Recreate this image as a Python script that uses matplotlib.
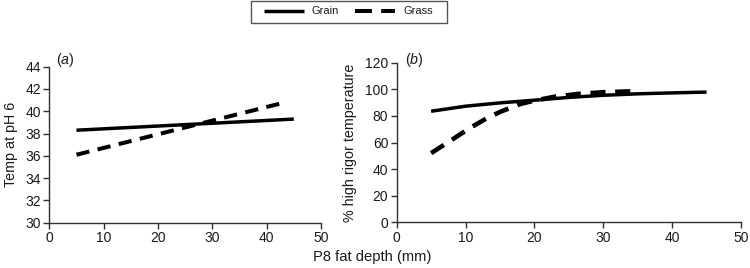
import matplotlib
matplotlib.use("Agg")
import matplotlib.pyplot as plt
from matplotlib.patches import Rectangle
from matplotlib.lines import Line2D

plt.rcParams['font.family'] = ['Liberation Sans', 'DejaVu Sans']
plt.rcParams['mathtext.fontset'] = 'custom'
plt.rcParams['mathtext.it'] = 'Liberation Sans:italic'
plt.rcParams['mathtext.rm'] = 'Liberation Sans'

# Panel (a): Temp at pH 6
a_grain_x = [5, 45]
a_grain_y = [38.3, 39.3]
a_grass_x = [5, 43.8]
a_grass_y = [36.1, 40.85]

# Panel (b): % high rigor temperature
b_grain_x = [5, 10, 15, 20, 25, 30, 35, 40, 45]
b_grain_y = [83.5, 87.3, 89.8, 91.8, 93.9, 95.5, 96.6, 97.3, 97.9]
b_grass_x = [5, 8, 10.5, 13, 15, 18, 20, 23, 26.5, 30, 34.8]
b_grass_y = [52, 62, 70.5, 78, 83, 89, 91.5, 94.5, 96.6, 97.8, 98.6]

xticks = [0, 10, 20, 30, 40, 50]
a_yticks = [30, 32, 34, 36, 38, 40, 42, 44]
b_yticks = [0, 20, 40, 60, 80, 100, 120]

W, H = 750, 268
fig = plt.figure(figsize=(W / 100, H / 100), dpi=100)
axa = fig.add_axes([49.3 / W, (H - 222.7) / H, (321 - 49.3) / W, (222.7 - 66.7) / H])
axb = fig.add_axes([396.7 / W, (H - 222.3) / H, (741 - 396.7) / W, (222.3 - 62.7) / H])

spine_col = '#303030'
txt_col = '#1a1a1a'
tfs = 10
lfs = 10.3
lw_solid = 2.5
lw_dash = 2.9
dash = (0, (3.3, 2.1))

for ax in (axa, axb):
    for s in ('top', 'right'):
        ax.spines[s].set_visible(False)
    for s in ('left', 'bottom'):
        ax.spines[s].set_color(spine_col)
        ax.spines[s].set_linewidth(1.0)
    ax.tick_params(direction='out', length=4, width=1.0, color=spine_col,
                   labelsize=tfs, labelcolor=txt_col, pad=2)
    ax.set_xlim(0, 50)
    ax.set_xticks(xticks)

axa.plot(a_grain_x, a_grain_y, color='black', lw=lw_solid, solid_capstyle='butt')
axa.plot(a_grass_x, a_grass_y, color='black', lw=lw_dash, linestyle=dash)
axa.set_ylim(30, 44)
axa.set_yticks(a_yticks)
axa.set_ylabel('Temp at pH 6', fontsize=lfs, color=txt_col, labelpad=5)
axa.text(1.2, 44.2, r'($\it{a}$)', fontsize=lfs, va='baseline', ha='left',
         color=txt_col, clip_on=False)

axb.plot(b_grain_x, b_grain_y, color='black', lw=lw_solid, solid_capstyle='butt')
axb.plot(b_grass_x, b_grass_y, color='black', lw=lw_dash + 0.4, linestyle=dash)
axb.set_ylim(0, 120)
axb.set_yticks(b_yticks)
axb.set_ylabel('% high rigor temperature', fontsize=lfs, color=txt_col, labelpad=6)
axb.text(1.2, 119, r'($\it{b}$)', fontsize=lfs, va='baseline', ha='left',
         color=txt_col, clip_on=False)

fig.text(0.4965, 1 - 257 / H, 'P8 fat depth (mm)', ha='center', va='center',
         fontsize=10.6, color=txt_col)

# legend
h1 = Line2D([], [], color='black', lw=lw_solid, solid_capstyle='butt')
h2 = Line2D([], [], color='black', lw=lw_dash, linestyle=(0, (4.2, 2.3)))
leg = fig.legend([h1, h2], ['Grain', 'Grass'], loc='center',
                 bbox_to_anchor=(348.5 / W, 1 - 11.5 / H), ncol=2, frameon=False,
                 fontsize=8, handlelength=3.6, columnspacing=1.45,
                 borderpad=0.0, handletextpad=0.75)
for t in leg.get_texts():
    t.set_color(txt_col)
fig.patches.append(Rectangle((251 / W, 1 - 23 / H), (447 - 251) / W, (23 - 0.6) / H,
                             transform=fig.transFigure, fill=False,
                             edgecolor='#555555', linewidth=1.0))

fig.savefig('out.png', dpi=100)
